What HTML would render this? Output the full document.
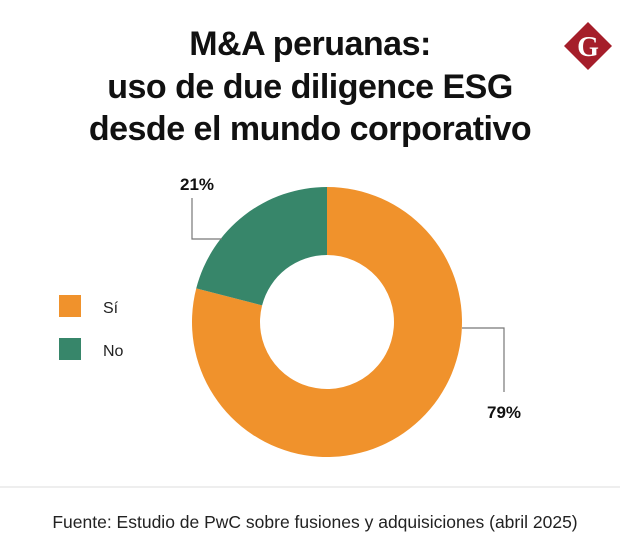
<!DOCTYPE html>
<html><head><meta charset="utf-8"><style>
body{margin:0;background:#fff;font-family:"Liberation Sans",sans-serif;}
#wrap{position:relative;width:620px;height:560px;overflow:hidden;}
.t{position:absolute;left:0;width:620px;text-align:center;font-weight:bold;font-size:34px;line-height:38px;color:#111;letter-spacing:-0.5px;}
</style></head><body>
<div id="wrap">
<div class="t" style="top:25px">M&amp;A peruanas:</div>
<div class="t" style="top:68px">uso de due diligence ESG</div>
<div class="t" style="top:110px">desde el mundo corporativo</div>
<svg width="620" height="560" style="position:absolute;left:0;top:0">
<g>
<polygon points="588,22 612,46 588,70 564,46" fill="#a51e2a"/>
<text x="588" y="56" text-anchor="middle" font-family="Liberation Serif,serif" font-weight="bold" font-size="28" fill="#fff">G</text>
</g>
<g id="donut"></g>
<polyline points="192,198 192,239 222,239" fill="none" stroke="#777" stroke-width="1.2"/>
<polyline points="462,328 504,328 504,392" fill="none" stroke="#777" stroke-width="1.2"/>
<text x="180" y="190" font-weight="bold" font-size="17" fill="#111">21%</text>
<text x="487" y="418" font-weight="bold" font-size="17" fill="#111">79%</text>
<rect x="59" y="295" width="22" height="22" fill="#f0922c"/>
<text x="103" y="313" font-size="16" fill="#222">Sí</text>
<rect x="59" y="338" width="22" height="22" fill="#37866a"/>
<text x="103" y="356" font-size="16" fill="#222">No</text>
<line x1="0" y1="487" x2="620" y2="487" stroke="#ddd" stroke-width="1"/>
<text x="315" y="528" text-anchor="middle" font-size="17.5" fill="#222">Fuente: Estudio de PwC sobre fusiones y adquisiciones (abril 2025)</text>
</svg>
</div>
<script>
const categories=["Sí","No"];
const values=[79,21];
const colors=["#f0922c","#37866a"];
const cx=327,cy=322,R=135,r=67;
const g=document.getElementById('donut');
const total=values.reduce((a,b)=>a+b,0);
let a0=0;
function pt(rad,a){return [cx+rad*Math.sin(a),cy-rad*Math.cos(a)];}
values.forEach((v,i)=>{
  const a1=a0+v/total*2*Math.PI;
  const large=(a1-a0)>Math.PI?1:0;
  const p1=pt(R,a0),p2=pt(R,a1),p3=pt(r,a1),p4=pt(r,a0);
  const p=document.createElementNS('http://www.w3.org/2000/svg','path');
  p.setAttribute('d',`M${p1[0]},${p1[1]} A${R},${R} 0 ${large} 1 ${p2[0]},${p2[1]} L${p3[0]},${p3[1]} A${r},${r} 0 ${large} 0 ${p4[0]},${p4[1]} Z`);
  p.setAttribute('fill',colors[i]);
  
  
  g.appendChild(p);
  a0=a1;
});
</script>
</body></html>
